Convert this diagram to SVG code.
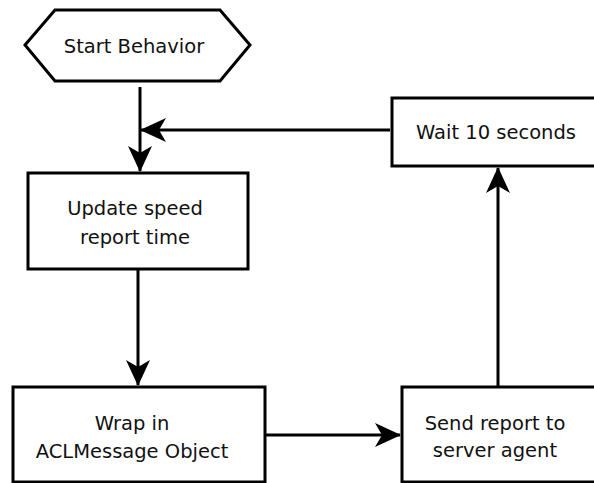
<svg xmlns="http://www.w3.org/2000/svg" width="594" height="483" viewBox="0 0 594 483">
<defs>
<style>
.node{fill:#fff;stroke:#000;stroke-width:3}
.lbl{font-family:"DejaVu Sans",Verdana,sans-serif;font-size:19.5px;fill:#111;text-anchor:middle;dominant-baseline:central}
.edge{fill:none;stroke:#000;stroke-width:3}
</style>
<marker id="arr" viewBox="0 0 26 24" refX="25" refY="12" markerWidth="26" markerHeight="24" markerUnits="userSpaceOnUse" orient="auto">
<path d="M0,0 L26,12 L0,24 L7,12 Z" fill="#000"/>
</marker>
</defs>
<rect width="594" height="483" fill="#fff"/>
<g id="start">
<polygon class="node" points="25,45 55,10 220,10 250,45 220,81 55,81"/>
<text class="lbl" x="134" y="46">Start Behavior</text>
</g>
<g id="update">
<rect class="node" x="28" y="173" width="220" height="96"/>
<text class="lbl" x="135" y="208">Update speed</text>
<text class="lbl" x="135" y="237">report time</text>
</g>
<g id="wrap">
<rect class="node" x="13" y="387" width="252" height="95"/>
<text class="lbl" x="132" y="423">Wrap in</text>
<text class="lbl" x="132" y="451">ACLMessage Object</text>
</g>
<g id="send">
<rect class="node" x="402" y="387" width="200" height="95"/>
<text class="lbl" x="495" y="423">Send report to</text>
<text class="lbl" x="495" y="450">server agent</text>
</g>
<g id="wait">
<rect class="node" x="392" y="98" width="210" height="68"/>
<text class="lbl" x="496" y="132">Wait 10 seconds</text>
</g>
<g id="connectors">
<path class="edge" d="M140,87 L140,171" marker-end="url(#arr)"/>
<path class="edge" d="M390,130 L141,130" marker-end="url(#arr)"/>
<path class="edge" d="M138,270 L138,385" marker-end="url(#arr)"/>
<path class="edge" d="M266,435 L400,435" marker-end="url(#arr)"/>
<path class="edge" d="M498,386 L498,168" marker-end="url(#arr)"/>
</g>
</svg>
